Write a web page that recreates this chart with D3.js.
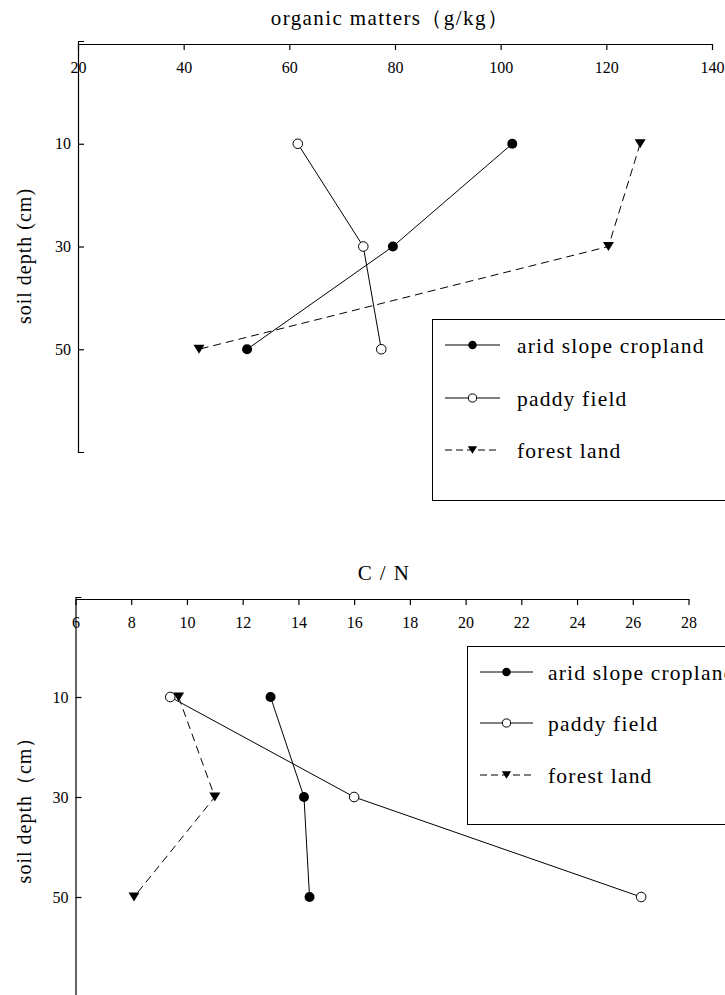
<!DOCTYPE html>
<html><head><meta charset="utf-8">
<script src="https://cdn.jsdelivr.net/npm/d3@7/dist/d3.min.js"></script>
<style>
html,body{margin:0;padding:0;background:#fff;}
svg text{font-family:"Liberation Serif","Times New Roman",serif;fill:#000;}
</style></head>
<body>
<svg id="chart" width="725" height="995"></svg>
<script>
// ---- data ----
const depths = [10, 30, 50];
const seriesNames = ["arid slope cropland", "paddy field", "forest land"];
const omArid = [102.2, 79.6, 52.0];
const omPaddy = [61.6, 74.0, 77.4];
const omForest = [126.4, 120.4, 42.9];
const cnArid = [13.0, 14.2, 14.4];
const cnPaddy = [9.4, 16.0, 26.3];
const cnForest = [9.7, 11.0, 8.1];
const omTicks = [20, 40, 60, 80, 100, 120, 140];
const cnTicks = [6, 8, 10, 12, 14, 16, 18, 20, 22, 24, 26, 28];
const depthTicks = [10, 30, 50];

const svg = d3.select("#chart");
svg.append("rect").attr("width",725).attr("height",995).attr("fill","#fff");

const styles = [
  {marker:"filled", dash:null},
  {marker:"open", dash:null},
  {marker:"tri", dash:"8,5"}
];

function drawMarker(g, type, x, y, s) {
  if (type === "filled") {
    g.append("circle").attr("cx",x).attr("cy",y).attr("r",5*s).attr("fill","#000");
  } else if (type === "open") {
    g.append("circle").attr("cx",x).attr("cy",y).attr("r",4.8*s).attr("fill","#fff").attr("stroke","#000").attr("stroke-width",1);
  } else {
    const w = 5.5*s, h = 9*s;
    g.append("path").attr("d",`M${x-w},${y-h/2}L${x+w},${y-h/2}L${x},${y+h/2}Z`).attr("fill","#000");
  }
}

function panel(cfg) {
  const g = svg.append("g");
  const x = d3.scaleLinear().domain(cfg.xDomain).range(cfg.xRange);
  const y = d3.scaleLinear().domain([-10, 70]).range(cfg.yRange);

  // title
  g.append("text").attr("x",cfg.titleX).attr("y",cfg.titleY)
    .attr("text-anchor","middle").attr("font-size",21).attr("letter-spacing",1.4)
    .text(cfg.title);

  // x axis (at top, ticks & labels pointing into plot)
  const xa = g.append("g").attr("transform",`translate(0,${cfg.xAxisY})`)
    .call(d3.axisBottom(x).tickValues(cfg.xTicks).tickSize(6).tickSizeOuter(0).tickPadding(12)
      .tickFormat(d3.format("d")));
  xa.selectAll("text").attr("font-size",16).style("font-family","Liberation Serif");
  xa.selectAll("line,path").attr("stroke","#000").attr("stroke-width",1.2);

  // y axis
  const ya = g.append("g").attr("transform",`translate(${cfg.xRange[0]},0)`)
    .call(d3.axisLeft(y).tickValues(depthTicks).tickSize(-6).tickSizeOuter(-6).tickPadding(7));
  ya.selectAll("text").attr("font-size",16).style("font-family","Liberation Serif");
  ya.selectAll("line,path").attr("stroke","#000").attr("stroke-width",1.2);

  // y label
  g.append("text").attr("transform",`translate(${cfg.yLabelX},${cfg.yLabelY}) rotate(-90)`)
    .attr("text-anchor","middle").attr("font-size",20).attr("letter-spacing",1)
    .text(cfg.yLabel);

  // series
  const line = d3.line().x(d=>x(d[0])).y(d=>y(d[1]));
  cfg.series.forEach((vals,i) => {
    const pts = vals.map((v,j)=>[v, depths[j]]);
    g.append("path").attr("d",line(pts)).attr("fill","none").attr("stroke","#000")
      .attr("stroke-width",1).attr("stroke-dasharray",styles[i].dash);
  });
  cfg.series.forEach((vals,i) => {
    vals.forEach((v,j) => drawMarker(g, styles[i].marker, x(v), y(depths[j]), 1));
  });

  // legend
  const L = cfg.legend;
  g.append("rect").attr("x",L.x).attr("y",L.y).attr("width",L.w).attr("height",L.h)
    .attr("fill","#fff").attr("stroke","#000").attr("stroke-width",1);
  seriesNames.forEach((name,i) => {
    const ry = L.rowY[i];
    g.append("line").attr("x1",L.lx0).attr("x2",L.lx1).attr("y1",ry).attr("y2",ry)
      .attr("stroke","#000").attr("stroke-width",1).attr("stroke-dasharray",styles[i].dash ? "7,4" : null);
    drawMarker(g, styles[i].marker, (L.lx0+L.lx1)/2, ry, 0.85);
    g.append("text").attr("x",L.tx).attr("y",ry).attr("dy","0.35em")
      .attr("font-size",21.5).attr("letter-spacing",1.2).text(name);
  });
}

panel({
  title:"organic matters（g/kg）", titleX:390, titleY:25,
  xDomain:[20,140], xRange:[78,712], yRange:[41,452], xAxisY:44,
  xTicks:omTicks, yLabel:"soil depth (cm)", yLabelX:31, yLabelY:256,
  series:[omArid, omPaddy, omForest],
  legend:{x:432.5, y:319.5, w:300, h:181, rowY:[345,398,450], lx0:445, lx1:500, tx:517}
});

panel({
  title:"C / N", titleX:384, titleY:580,
  xDomain:[6,28], xRange:[75.5,688.5], yRange:[597,997], xAxisY:599,
  xTicks:cnTicks, yLabel:"soil depth（cm）", yLabelX:31, yLabelY:805,
  series:[cnArid, cnPaddy, cnForest],
  legend:{x:467.5, y:646.5, w:300, h:178, rowY:[672,723,775], lx0:480, lx1:533, tx:548}
});
</script>
</body></html>
